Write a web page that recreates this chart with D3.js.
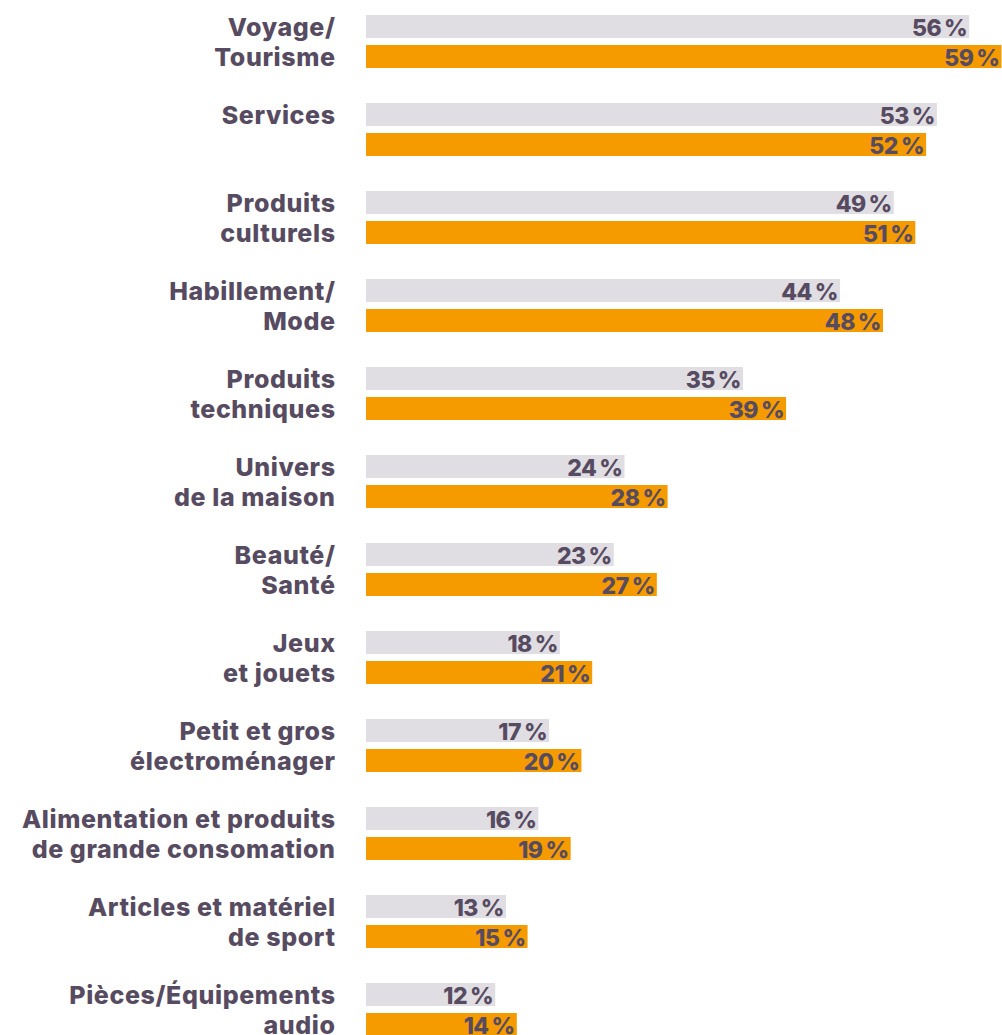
<!DOCTYPE html>
<html>
<head>
<meta charset="utf-8">
<script src="https://cdn.jsdelivr.net/npm/d3@7"></script>
<style>
  body { margin: 0; background: #fff; }
  svg { display: block; font-family: Inter, "Liberation Sans", Arial, sans-serif; font-weight: 800; }
</style>
</head>
<body>
<div id="viz"></div>
<script>
// categories, one entry per line of the label
const categories = [
  ["Voyage/", "Tourisme"],
  ["Services"],
  ["Produits", "culturels"],
  ["Habillement/", "Mode"],
  ["Produits", "techniques"],
  ["Univers", "de la maison"],
  ["Beauté/", "Santé"],
  ["Jeux", "et jouets"],
  ["Petit et gros", "électroménager"],
  ["Alimentation et produits", "de grande consomation"],
  ["Articles et matériel", "de sport"],
  ["Pièces/Équipements", "audio"]
];
const series = ["gris", "orange"];
const valuesGris = [56, 53, 49, 44, 35, 24, 23, 18, 17, 16, 13, 12];
const valuesOrange = [59, 52, 51, 48, 39, 28, 27, 21, 20, 19, 15, 14];

const width = 1002, height = 1035;
const colors = { gris: "#e0dee3", orange: "#f59b00" };
const textColor = "#574b61";

const svg = d3.select("#viz")
  .append("svg")
  .attr("width", width)
  .attr("height", height)

const x = d3.scaleLinear()
  .domain([0, 59])
  .range([366, 1001.5]);

const y = d3.scaleBand()
  .domain(d3.range(categories.length))
  .range([15, 1036])
  .paddingInner(35 / 88)
  .paddingOuter(0);

const ySub = d3.scaleBand()
  .domain(series)
  .range([0, y.bandwidth()])
  .paddingInner(2 - y.bandwidth() / 30);

const rows = categories.map((c, i) => ({
  lines: c,
  gris: valuesGris[i],
  orange: valuesOrange[i],
  i: i
}));

const g = svg.selectAll("g.row")
  .data(rows)
  .enter()
  .append("g")
  .attr("class", "row")
  .attr("transform", d => `translate(0,${y(d.i)})`);

// category labels
g.append("text")
  .attr("text-anchor", "end")
  .attr("fill", textColor)
  .style("font-size", "25px")
  .style("letter-spacing", "0.6px")
  .selectAll("tspan")
  .data(d => d.lines)
  .enter()
  .append("tspan")
  .attr("x", 335.6)
  .attr("y", (d, j) => 21 + j * ySub.step())
  .text(d => d);

// bars
series.forEach(s => {
  g.append("rect")
    .attr("x", x(0))
    .attr("y", ySub(s))
    .attr("width", d => x(d[s]) - x(0))
    .attr("height", ySub.bandwidth())
    .attr("fill", colors[s]);

  g.append("text")
    .attr("x", d => x(d[s]) - 2)
    .attr("y", ySub(s) + 21)
    .attr("text-anchor", "end")
    .attr("fill", textColor)
    .style("font-size", "23px")
    .style("letter-spacing", "-0.5px")
    .text(d => d[s] + "\u2009%");
});
</script>
</body>
</html>
